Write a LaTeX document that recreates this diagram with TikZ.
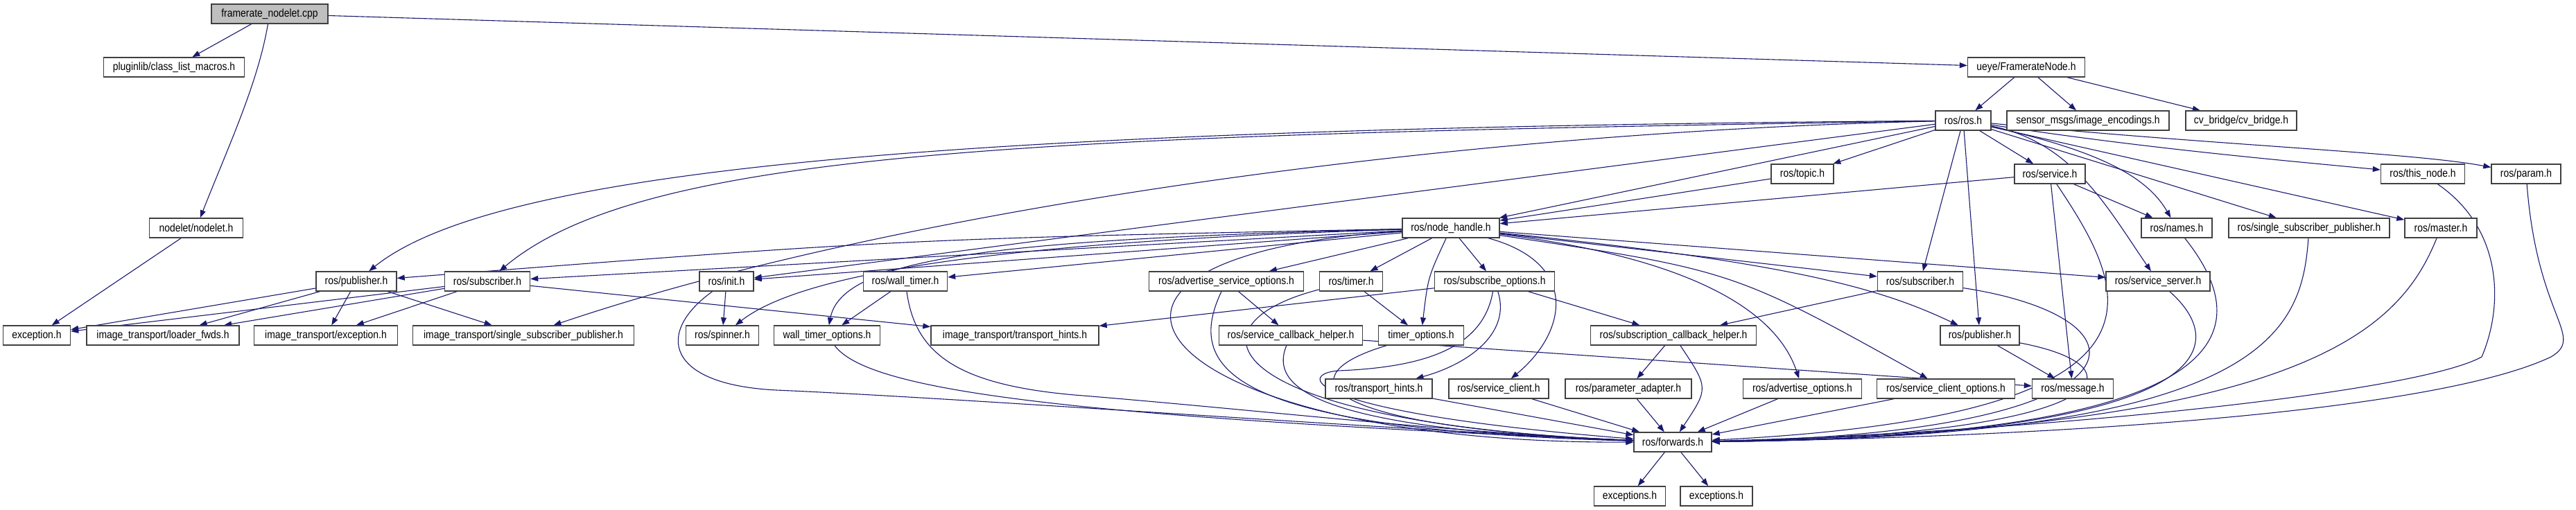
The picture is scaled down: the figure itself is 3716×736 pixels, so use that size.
\documentclass[tikz,border=0pt]{standalone}
\usepackage{fontspec}
\setmainfont[FakeStretch=0.87]{Liberation Sans}
\usetikzlibrary{arrows.meta}
\definecolor{edgec}{HTML}{191970}
\definecolor{boxc}{HTML}{404040}
\definecolor{curfill}{HTML}{BFBFBF}
\pgfdeclarelayer{back}
\pgfdeclarelayer{bg}
\pgfsetlayers{back,bg,main}
\begin{document}
\begin{tikzpicture}[x=1pt,y=-1pt,
  fbox/.style={draw=boxc, line width=1.4pt, fill=white, minimum height=28pt, inner sep=0pt, font=\fontsize{16pt}{18pt}\selectfont},
  e/.style={draw=edgec, line width=1.1pt, -{Triangle[length=11pt,width=8pt]}}]
\useasboundingbox (0,0) rectangle (3716,736);
\begin{pgfonlayer}{back}
\fill[white] (0,0) rectangle (3716,736);
\end{pgfonlayer}
% nodes
\node[fbox, fill=curfill, minimum width=168pt] (fn) at (389,20) {framerate\_nodelet.cpp};
\node[fbox, minimum width=203pt] (plm) at (251,97) {pluginlib/class\_list\_macros.h};
\node[fbox, minimum width=169pt] (frn) at (2923,97) {ueye/FramerateNode.h};
\node[fbox, minimum width=135pt] (nod) at (283,329) {nodelet/nodelet.h};
\node[fbox, minimum width=80pt] (ros) at (2832,174) {ros/ros.h};
\node[fbox, minimum width=234pt] (sme) at (3012,174) {sensor\_msgs/image\_encodings.h};
\node[fbox, minimum width=160pt] (cvb) at (3233,174) {cv\_bridge/cv\_bridge.h};
\node[fbox, minimum width=90pt] (top) at (2600,251) {ros/topic.h};
\node[fbox, minimum width=102pt] (srv) at (2957,251) {ros/service.h};
\node[fbox, minimum width=121pt] (thn) at (3495,251) {ros/this\_node.h};
\node[fbox, minimum width=100pt] (par) at (3644,251) {ros/param.h};
\node[fbox, minimum width=140pt] (nh) at (2093,329) {ros/node\_handle.h};
\node[fbox, minimum width=102pt] (nam) at (3140,329) {ros/names.h};
\node[fbox, minimum width=232pt] (ssp) at (3331,329) {ros/single\_subscriber\_publisher.h};
\node[fbox, minimum width=104pt] (mas) at (3521,329) {ros/master.h};
\node[fbox, minimum width=116pt] (pubL) at (514,406) {ros/publisher.h};
\node[fbox, minimum width=123pt] (subL) at (703,406) {ros/subscriber.h};
\node[fbox, minimum width=78pt] (ini) at (1048,406) {ros/init.h};
\node[fbox, minimum width=121pt] (wt) at (1306,406) {ros/wall\_timer.h};
\node[fbox, minimum width=223pt] (aso) at (1769,406) {ros/advertise\_service\_options.h};
\node[fbox, minimum width=91pt] (tim) at (1949,406) {ros/timer.h};
\node[fbox, minimum width=173pt] (so) at (2156,406) {ros/subscribe\_options.h};
\node[fbox, minimum width=123pt] (subR) at (2770,406) {ros/subscriber.h};
\node[fbox, minimum width=150pt] (ss) at (3113,406) {ros/service\_server.h};
\node[fbox, minimum width=97pt] (exc) at (53,484) {exception.h};
\node[fbox, minimum width=220pt] (lf) at (235,484) {image\_transport/loader\_fwds.h};
\node[fbox, minimum width=207pt] (ite) at (470,484) {image\_transport/exception.h};
\node[fbox, minimum width=319pt] (itssp) at (755,484) {image\_transport/single\_subscriber\_publisher.h};
\node[fbox, minimum width=105pt] (spi) at (1042,484) {ros/spinner.h};
\node[fbox, minimum width=153pt] (wto) at (1193,484) {wall\_timer\_options.h};
\node[fbox, minimum width=242pt] (itth) at (1464,484) {image\_transport/transport\_hints.h};
\node[fbox, minimum width=207pt] (sch) at (1862,484) {ros/service\_callback\_helper.h};
\node[fbox, minimum width=123pt] (tmo) at (2050,484) {timer\_options.h};
\node[fbox, minimum width=239pt] (scb) at (2414,484) {ros/subscription\_callback\_helper.h};
\node[fbox, minimum width=114pt] (pubR) at (2856,484) {ros/publisher.h};
\node[fbox, minimum width=154pt] (th) at (1989,561) {ros/transport\_hints.h};
\node[fbox, minimum width=144pt] (sc) at (2162,561) {ros/service\_client.h};
\node[fbox, minimum width=182pt] (pa) at (2349,561) {ros/parameter\_adapter.h};
\node[fbox, minimum width=171pt] (ao) at (2600,561) {ros/advertise\_options.h};
\node[fbox, minimum width=199pt] (sco) at (2807,561) {ros/service\_client\_options.h};
\node[fbox, minimum width=117pt] (msg) at (2990,561) {ros/message.h};
\node[fbox, minimum width=112pt] (fwd) at (2413,638) {ros/forwards.h};
\node[fbox, minimum width=103pt] (ex1) at (2351,716) {exceptions.h};
\node[fbox, minimum width=104pt] (ex2) at (2476,716) {exceptions.h};
% edges
\begin{pgfonlayer}{bg}
\draw[e] (fn) -- (plm);
\draw[e] (fn) .. controls (372,120) and (330,210) .. (nod);
\draw[e] (fn) -- (frn);
\draw[e] (nod) -- (exc);
\draw[e] (frn) -- (ros);
\draw[e] (frn) -- (sme);
\draw[e] (frn) -- (cvb);
% ros/ros.h
\draw[e] (ros) .. controls (1400,185) and (720,240) .. (pubL);
\draw[e] (ros) .. controls (1500,195) and (930,215) .. (subL);
\draw[e] (ros) .. controls (2100,190) and (1300,300) .. (itssp);
\draw[e] (ros) -- (ini);
\draw[e] (ros) -- (nh);
\draw[e] (ros) -- (top);
\draw[e] (ros) -- (srv);
\draw[e] (ros) -- (subR);
\draw[e] (ros) -- (pubR);
\draw[e] (ros) .. controls (3040,220) and (3100,260) .. (nam);
\draw[e] (ros) -- (ssp);
\draw[e] (ros) -- (mas);
\draw[e] (ros) .. controls (3100,215) and (3300,232) .. (thn);
\draw[e] (ros) .. controls (3200,210) and (3480,220) .. (par);
\draw[e] (ros) .. controls (2990,205) and (3040,300) .. (ss);
% topic / service
\draw[e] (top) -- (nh);
\draw[e] (srv) -- (nh);
\draw[e] (srv) -- (nam);
\draw[e] (srv) -- (msg);
\draw[e] (srv) .. controls (3070,420) and (3170,600) .. (fwd);
% right side into forwards
\draw[e] (thn) .. controls (3610,330) and (3612,440) .. (3580,515) .. controls (3480,570) and (2900,625) .. (fwd);
\draw[e] (par) .. controls (3660,460) and (3730,485) .. (3680,515) .. controls (3500,600) and (2900,632) .. (fwd);
\draw[e] (mas) .. controls (3460,480) and (3320,620) .. (fwd);
\draw[e] (ssp) .. controls (3320,480) and (3270,630) .. (fwd);
\draw[e] (nam) .. controls (3260,480) and (3230,630) .. (fwd);
\draw[e] (ss) .. controls (3220,500) and (3200,630) .. (fwd);
\draw[e] (subR) .. controls (3120,460) and (3110,625) .. (fwd);
\draw[e] (pubR) .. controls (3100,530) and (3050,628) .. (fwd);
% node_handle
\draw[e] (nh) .. controls (1300,345) .. (pubL);
\draw[e] (nh) -- (subL);
\draw[e] (nh) -- (ini);
\draw[e] (nh) .. controls (1400,350) and (1150,400) .. (spi);
\draw[e] (nh) .. controls (1450,345) and (1215,370) .. (wto);
\draw[e] (nh) -- (wt);
\draw[e] (nh) .. controls (1450,370) and (1650,640) .. (fwd);
\draw[e] (nh) -- (aso);
\draw[e] (nh) -- (tim);
\draw[e] (nh) .. controls (2060,400) .. (tmo);
\draw[e] (nh) -- (so);
\draw[e] (nh) .. controls (2280,380) and (2260,480) .. (sc);
\draw[e] (nh) .. controls (2420,370) and (2560,440) .. (ao);
\draw[e] (nh) .. controls (2500,390) .. (sco);
\draw[e] (nh) .. controls (2600,380) and (2720,420) .. (pubR);
\draw[e] (nh) -- (subR);
\draw[e] (nh) -- (ss);
% image_transport publisher / subscriber
\draw[e] (pubL) -- (exc);
\draw[e] (pubL) -- (lf);
\draw[e] (pubL) -- (ite);
\draw[e] (pubL) -- (itssp);
\draw[e] (subL) -- (exc);
\draw[e] (subL) -- (lf);
\draw[e] (subL) -- (ite);
\draw[e] (subL) -- (itth);
% lower left group
\draw[e] (ini) -- (spi);
\draw[e] (ini) .. controls (945,480) and (960,555) .. (1120,563) .. controls (1400,575) and (2000,620) .. (fwd);
\draw[e] (wt) -- (wto);
\draw[e] (wt) .. controls (1320,510) and (1380,555) .. (1550,570) .. controls (1800,590) and (2100,625) .. (fwd);
\draw[e] (wto) .. controls (1250,560) and (1500,600) .. (fwd);
\draw[e] (aso) -- (sch);
\draw[e] (aso) .. controls (1705,540) and (1790,620) .. (fwd);
\draw[e] (tim) -- (tmo);
\draw[e] (tim) .. controls (1700,470) and (1760,610) .. (fwd);
\draw[e] (sch) .. controls (1830,560) and (1900,620) .. (fwd);
\draw[e] (sch) -- (msg);
\draw[e] (tmo) .. controls (1860,540) and (1880,615) .. (fwd);
\draw[e] (so) -- (itth);
\draw[e] (so) .. controls (2180,480) and (2120,525) .. (th);
\draw[e] (so) .. controls (2140,500) and (2060,530) .. (1930,535) .. controls (1870,540) and (1880,595) .. (fwd);
\draw[e] (so) -- (scb);
\draw[e] (th) -- (fwd);
\draw[e] (sc) -- (fwd);
\draw[e] (scb) -- (pa);
\draw[e] (scb) .. controls (2465,560) .. (fwd);
\draw[e] (pa) -- (fwd);
\draw[e] (ao) -- (fwd);
\draw[e] (sco) -- (fwd);
\draw[e] (subR) -- (scb);
\draw[e] (pubR) -- (msg);
\draw[e] (fwd) -- (ex1);
\draw[e] (fwd) -- (ex2);
\end{pgfonlayer}
\end{tikzpicture}
\end{document}
